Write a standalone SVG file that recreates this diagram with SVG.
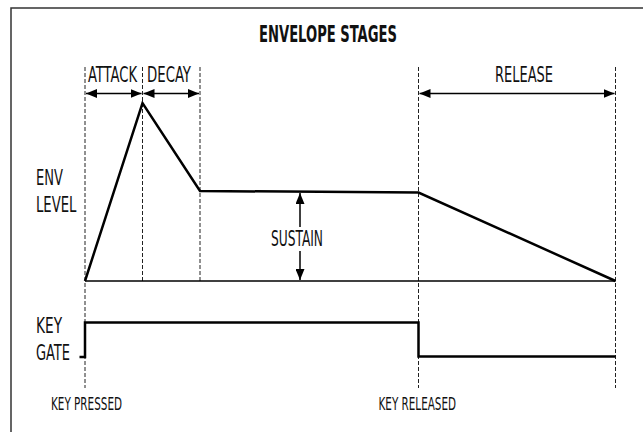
<svg xmlns="http://www.w3.org/2000/svg" width="643" height="432" viewBox="0 0 643 432">
<style>
text{font-family:"Liberation Sans Narrow","DejaVu Sans Condensed","Liberation Sans",sans-serif;fill:#111;font-stretch:condensed}
.t{font-size:20.5px}
.s{font-size:17px}
.b{font-size:22.5px;font-weight:bold}
.dash{stroke:#222;stroke-width:1;stroke-dasharray:4,2;fill:none}
.env{stroke:#000;stroke-width:2.5;fill:none;stroke-linejoin:miter}
.thin{stroke:#000;stroke-width:1.5;fill:none}
.arr{stroke:#000;stroke-width:1.3;fill:none;marker-start:url(#ah);marker-end:url(#ah)}
</style>
<defs>
<marker id="ah" viewBox="0 0 11 9" refX="11" refY="4.5" markerWidth="11" markerHeight="9" markerUnits="userSpaceOnUse" orient="auto-start-reverse">
<path d="M0,0 L11,4.5 L0,9 Z" fill="#000"/>
</marker>
</defs>
<rect x="11" y="8" width="700" height="460" fill="#fff" stroke="#333" stroke-width="1.5"/>
<g id="title"><text class="b" x="259" y="42" textLength="138" lengthAdjust="spacingAndGlyphs">ENVELOPE STAGES</text></g>
<g id="guides">
<line class="dash" x1="85" y1="67" x2="85" y2="388"/>
<line class="dash" x1="142.5" y1="67" x2="142.5" y2="281"/>
<line class="dash" x1="200" y1="67" x2="200" y2="281"/>
<line class="dash" x1="418.5" y1="67" x2="418.5" y2="388"/>
<line class="dash" x1="615.5" y1="67" x2="615.5" y2="388"/>
</g>
<g id="connectors">
<line class="arr" x1="86" y1="93.5" x2="141.5" y2="93.5"/>
<line class="arr" x1="143.5" y1="93.5" x2="199" y2="93.5"/>
<line class="arr" x1="419.5" y1="93.5" x2="614.5" y2="93.5"/>
<line class="thin" x1="300" y1="193" x2="300" y2="227" style="marker-start:url(#ah)"/>
<line class="thin" x1="300" y1="251" x2="300" y2="280" style="marker-end:url(#ah)"/>
</g>
<g id="baseline"><line class="thin" x1="85" y1="281" x2="615.5" y2="281"/></g>
<g id="envelope"><polyline class="env" points="85,281 142.5,103 200,191 418.5,192.5 615.5,281"/></g>
<g id="gate"><polyline class="env" points="79.5,357 85,357 85,322.5 418.5,322.5 418.5,356.5 615.5,356.5"/></g>
<g id="attack"><text class="t" x="88" y="82" textLength="49" lengthAdjust="spacingAndGlyphs">ATTACK</text></g>
<g id="decay"><text class="t" x="147" y="82" textLength="44" lengthAdjust="spacingAndGlyphs">DECAY</text></g>
<g id="release"><text class="t" x="495" y="82" textLength="58" lengthAdjust="spacingAndGlyphs">RELEASE</text></g>
<g id="sustain"><text class="t" x="271" y="245.5" textLength="52" lengthAdjust="spacingAndGlyphs">SUSTAIN</text></g>
<g id="env-level">
<text class="t" x="36" y="185" textLength="27" lengthAdjust="spacingAndGlyphs">ENV</text>
<text class="t" x="36" y="211.5" textLength="40.5" lengthAdjust="spacingAndGlyphs">LEVEL</text>
</g>
<g id="key-gate">
<text class="t" x="36" y="333" textLength="26" lengthAdjust="spacingAndGlyphs">KEY</text>
<text class="t" x="36" y="360" textLength="34" lengthAdjust="spacingAndGlyphs">GATE</text>
</g>
<g id="key-pressed"><text class="s" x="51" y="410" textLength="71" lengthAdjust="spacingAndGlyphs">KEY PRESSED</text></g>
<g id="key-released"><text class="s" x="378.5" y="410" textLength="77.5" lengthAdjust="spacingAndGlyphs">KEY RELEASED</text></g>
</svg>
